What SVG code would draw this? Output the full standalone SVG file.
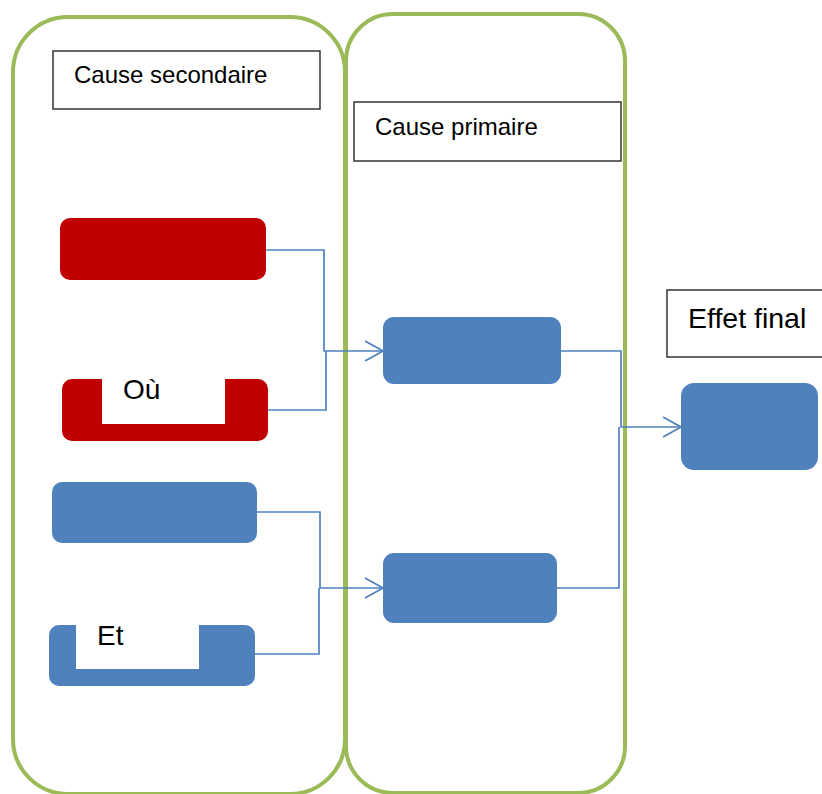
<svg xmlns="http://www.w3.org/2000/svg" width="822" height="794" viewBox="0 0 822 794">
<style>
.cont{fill:none;stroke:#9BBB59;stroke-width:4}
.tbox{fill:#fff;stroke:#333;stroke-width:1.5}
.red{fill:#C00000}
.blue{fill:#4F81BD}
.notch{fill:#fff}
.t{font-family:"Liberation Sans",Arial,sans-serif;fill:#000}
.conn{fill:none;stroke:#4F81BD;stroke-width:1.7}
</style>
<defs>
<marker id="arr" markerWidth="20" markerHeight="24" refX="18" refY="11" orient="auto" markerUnits="userSpaceOnUse">
<path d="M0,1 L18,11 L0,21" fill="none" stroke="#4F81BD" stroke-width="1.8"/>
</marker>
</defs>
<g id="container-secondaire"><rect class="cont" x="13" y="17" width="332" height="777" rx="55" ry="55"/></g>
<g id="container-primaire"><rect class="cont" x="346" y="14" width="279" height="779" rx="47" ry="47"/></g>
<g id="label-secondaire"><rect class="tbox" x="53" y="51" width="267" height="58"/><text class="t" x="74" y="83" font-size="24">Cause secondaire</text></g>
<g id="label-primaire"><rect class="tbox" x="354" y="102" width="267" height="59"/><text class="t" x="375" y="135" font-size="24">Cause primaire</text></g>
<g id="label-effet"><rect class="tbox" x="667" y="290" width="170" height="67"/><text class="t" x="688" y="328" font-size="28.5">Effet final</text></g>
<g id="connectors">
<polyline class="conn" points="266,250 324,250 324,351 383,351" marker-end="url(#arr)"/>
<polyline class="conn" points="268,410 326,410 326,351"/>
<polyline class="conn" points="257,512 320,512 320,588 383,588" marker-end="url(#arr)"/>
<polyline class="conn" points="255,654 319,654 319,588"/>
<polyline class="conn" points="561,351 621,351 621,427 681,427" marker-end="url(#arr)"/>
<polyline class="conn" points="557,588 619,588 619,427"/>
</g>
<g id="node-red1"><rect class="red" x="60" y="218" width="206" height="62" rx="10"/></g>
<g id="node-red2"><rect class="red" x="62" y="379" width="206" height="62" rx="10"/><rect class="notch" x="102" y="379" width="123" height="45"/><text class="t" x="123" y="399" font-size="28">Où</text></g>
<g id="node-blue1"><rect class="blue" x="52" y="482" width="205" height="61" rx="10"/></g>
<g id="node-blue2"><rect class="blue" x="49" y="625" width="206" height="61" rx="10"/><rect class="notch" x="76" y="625" width="123" height="44"/><text class="t" x="97" y="645" font-size="28">Et</text></g>
<g id="node-primaire1"><rect class="blue" x="383" y="317" width="178" height="67" rx="11"/></g>
<g id="node-primaire2"><rect class="blue" x="383" y="553" width="174" height="70" rx="11"/></g>
<g id="node-effet"><rect class="blue" x="681" y="383" width="137" height="87" rx="13"/></g>
</svg>
